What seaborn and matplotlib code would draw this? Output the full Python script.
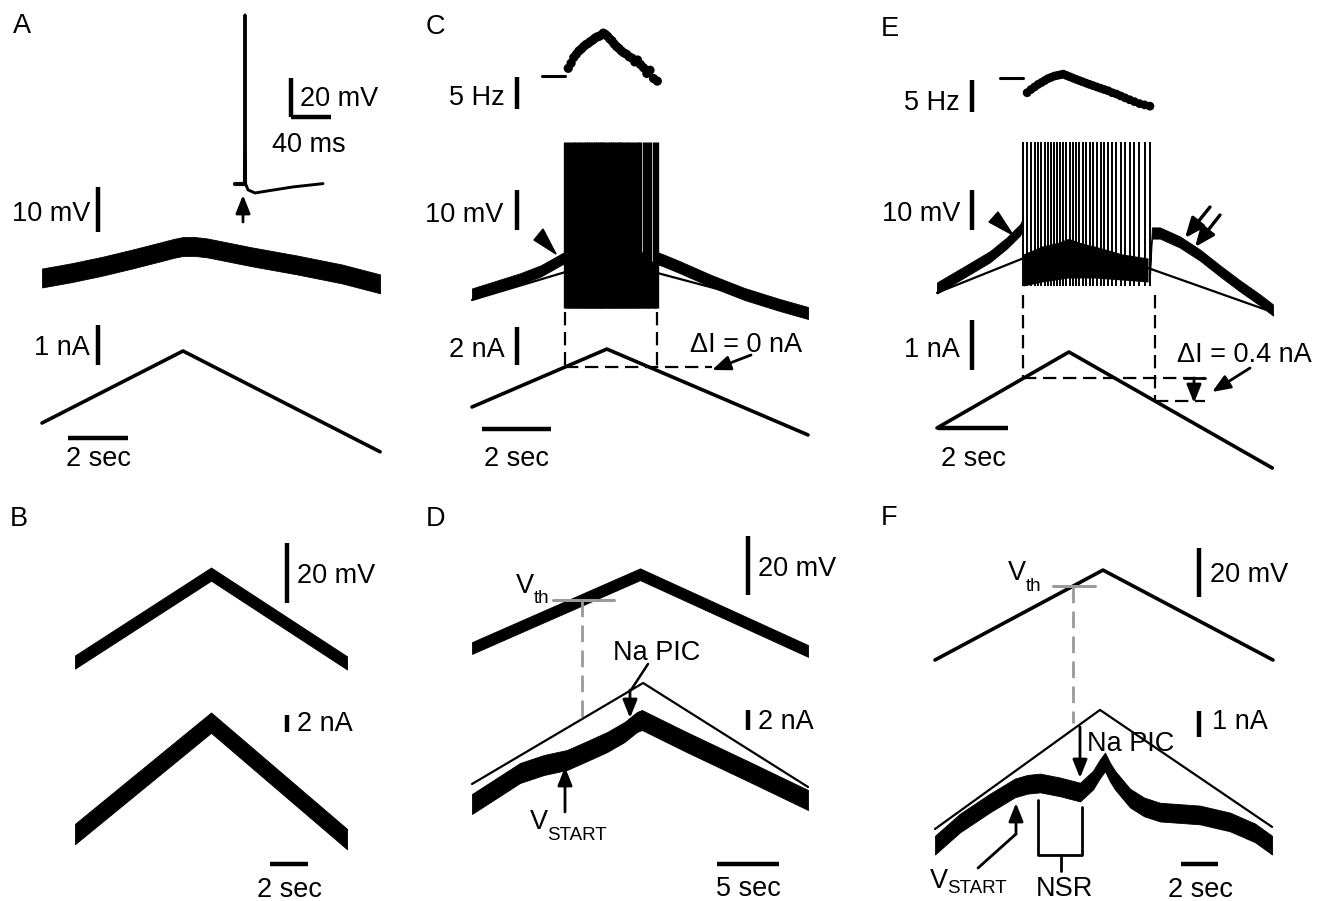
import numpy as np
import matplotlib
matplotlib.use("Agg")
import matplotlib.pyplot as plt
import seaborn as sns
from matplotlib.patches import Polygon

# units: time s (inset ms), membrane potential mV, current nA, firing rate Hz

# A - subthreshold ramp + single spike inset
a_ramp_t = [0.0, 4.7, 11.27]
a_ramp_i = [0.0, 1.8, -0.72]
a_vm_t = [0.0, 1.0, 2.0, 3.0, 4.0, 4.4, 4.7, 5.1, 5.5, 7.0, 8.5, 10.0, 11.27]
a_vm = [0.0, 1.2, 2.6, 4.2, 5.9, 6.6, 7.0, 7.0, 6.7, 4.7, 2.9, 0.9, -1.3]
a_ap_t = [-10, -0.6, 0.0, 0.6, 3, 10, 22, 48, 78]
a_ap_v = [0.0, 0.0, 86.7, 0.0, -3.0, -4.6, -3.6, -1.5, 0.2]

# B - voltage ramp and current
b_t = [0.0, 7.16, 14.32]
b_vm = [0.0, 29.3, -0.3]
b_im = [0.0, 13.1, -0.6]

# C - ramp with firing, no hysteresis
c_ramp_t = [0.0, 3.91, 9.74]
c_ramp_i = [0.0, 3.05, -1.47]
c_pass_v = [-1.5, 8.6, -4.75]
c_pre_t = [0.0, 0.7, 1.4, 2.0, 2.35, 2.7]
c_pre_v = [0.0, 1.9, 3.8, 5.8, 7.5, 9.2]
c_post_t = [5.36, 5.55, 6.0, 6.95, 7.9, 8.9, 9.74]
c_post_v = [9.0, 8.4, 6.8, 3.2, 0.0, -2.7, -4.75]
c_first_spike = 2.70
c_rate = [11.2, 12.0, 12.9, 13.4, 13.9, 14.2, 14.6, 14.9, 15.1, 15.4, 15.6, 15.9,
          16.1, 16.2, 16.4, 16.7, 16.5, 16.2, 15.8, 15.5, 15.0, 14.6, 14.3, 13.9,
          13.6, 13.4, 13.0, 12.8, 12.2, 12.5, 11.8, 11.3, 10.4, 10.9, 9.6, 9.2]
c_ref_hz = 10
c_burst_t = [2.7, 3.2, 3.9, 4.6, 5.0, 5.36]
c_burst_top = [9.0, 12.0, 14.0, 13.0, 10.0, 7.0]
c_trough = -3.5
c_peak = 38.0

# D - voltage clamp ramp (slow)
d_t = [0.0, 13.55, 27.1]
d_vm = [0.0, 25.0, -1.0]
d_vth = 16.3
d_cmd_t = [0.0, 13.8, 27.1]
d_cmd_i = [0.0, 10.1, -0.3]
d_im_t = [0.0, 2.0, 3.87, 5.8, 7.66, 9.3, 10.9, 12.3, 13.3, 13.7, 17.3, 22.4, 27.1]
d_im = [-2.0, -0.4, 1.1, 1.9, 2.4, 3.3, 4.2, 5.2, 6.2, 6.4, 4.2, 1.2, -1.6]

# E - ramp with firing and hysteresis
e_ramp_t = [0.0, 3.77, 9.58]
e_ramp_i = [0.0, 1.52, -0.8]
e_pass_v = [-0.7, 12.5, -5.5]
e_pre_t = [0.0, 0.74, 1.51, 2.0, 2.37, 2.46]
e_pre_v = [0.5, 4.3, 8.3, 11.8, 15.0, 16.5]
e_post_t = [6.09, 6.14, 6.37, 6.94, 7.51, 8.09, 8.66, 9.23, 9.6]
e_post_v = [5.5, 14.25, 14.25, 12.0, 8.75, 4.75, 1.0, -2.5, -5.0]
e_first_spike = 2.46
e_rate = [8.7, 9.2, 9.6, 10.0, 10.3, 10.6, 10.9, 11.1, 11.3, 11.4, 11.5, 11.6,
          11.4, 11.2, 11.0, 10.8, 10.6, 10.4, 10.2, 10.0, 9.8, 9.6, 9.4, 9.2,
          9.0, 8.7, 8.5, 8.2, 7.9, 7.6, 7.3, 7.0, 6.8, 6.6]
e_ref_hz = 11
e_release_t = 6.23
e_burst_t = [2.46, 3.0, 3.74, 4.5, 5.3, 6.03]
e_burst_top = [9.0, 11.0, 12.5, 11.0, 9.0, 8.0]
e_burst_bot = [1.0, 2.0, 3.0, 3.0, 2.5, 2.0]
e_trough = 1.0
e_peak = 37.0

# F - voltage clamp ramp (fast)
f_t = [0.0, 9.08, 18.27]
f_vm = [0.0, 36.7, 0.0]
f_vth = 30.2
f_cmd_t = [0.0, 8.92, 18.22]
f_cmd_i = [0.0, 4.58, 0.08]
f_im_t = [0.0, 1.35, 2.97, 4.32, 5.0, 5.68, 6.76, 7.84, 8.54, 8.9, 9.19, 9.45, 9.73,
          10.54, 11.3, 12.16, 14.32, 15.95, 17.3, 18.22]
f_im = [-0.62, 0.23, 1.0, 1.58, 1.72, 1.77, 1.62, 1.42, 1.88, 2.3, 2.58, 2.2, 1.88,
        1.19, 0.85, 0.65, 0.54, 0.27, -0.15, -0.62]

W, H = 1328, 901
FS = 19.5
SUB = 13.5

sns.set_theme(style="white")
plt.rcParams['font.family'] = ['Liberation Sans', 'DejaVu Sans']

fig = plt.figure(figsize=(W / 100, H / 100), dpi=100)
fig.patch.set_facecolor('white')
n_ax = [0]


def trace_ax(x0, y0, sx, sy):
    """transparent full-figure axes: value (0, 0) at pixel (x0, y0), sx/sy px per unit"""
    n_ax[0] += 1
    ax = fig.add_axes([0, 0, 1, 1], facecolor='none', label=f"tr{n_ax[0]}")
    ax.set_xlim(-x0 / sx, (W - x0) / sx)
    ax.set_ylim((y0 - H) / sy, y0 / sy)
    ax.set_axis_off()
    return ax


def line(ax, t, v, lw=2.5, color='black', **kw):
    sns.lineplot(x=t, y=v, ax=ax, color=color, linewidth=lw, estimator=None,
                 sort=False, legend=False, **kw)


def band(ax, t, v, half):
    v = np.asarray(v, dtype=float)
    ax.fill_between(t, v - half, v + half, color='black', lw=0.6)


ov = fig.add_axes([0, 0, 1, 1], facecolor='none', label="overlay")
ov.set_xlim(0, W)
ov.set_ylim(H, 0)
ov.set_axis_off()


def txt(x, y, s, ha='left', size=FS, **kw):
    ov.text(x, y, s, ha=ha, va='baseline', fontsize=size, color='black', **kw)


def vbar(x, y_bottom, px):
    ov.plot([x, x], [y_bottom, y_bottom - px], color='black', lw=3.2, solid_capstyle='butt')


def hbar(x_left, y, px):
    ov.plot([x_left, x_left + px], [y, y], color='black', lw=3.2, solid_capstyle='butt')


def arrow(tail, tip, lw=2.0, hl=0.55, hw=0.22):
    ov.annotate('', xy=tip, xytext=tail,
                arrowprops=dict(arrowstyle=f'-|>,head_length={hl},head_width={hw}',
                                color='black', lw=lw, mutation_scale=20,
                                shrinkA=0, shrinkB=0))


def spikes_from_rate(t0, rate):
    return t0 + np.concatenate([[0.0], np.cumsum(1.0 / np.asarray(rate))])


# ---------------- A ----------------
sxA = 30
axA_v = trace_ax(42, 278, sxA, 4.5)
band(axA_v, a_vm_t, a_vm, 2.1)
axA_i = trace_ax(42, 423, sxA, 40)
line(axA_i, a_ramp_t, a_ramp_i, lw=2.6)
axA_ap = trace_ax(245, 184, 1.0, 1.95)
line(axA_ap, a_ap_t, a_ap_v, lw=2.1)
line(axA_ap, a_ap_t[:2], a_ap_v[:2], lw=3.0)
vbar(291, 117, 20 * 1.95)
hbar(291, 117, 40 * 1.0)
arrow((243, 222), (243, 195))
vbar(98, 232, 10 * 4.5)
vbar(98, 365, 1 * 40)
hbar(68, 438, 2 * sxA)
txt(22, 33, 'A', ha='center')
txt(300, 106, '20 mV')
txt(272, 152, '40 ms')
txt(90, 221, '10 mV', ha='right')
txt(90, 355, '1 nA', ha='right')
txt(98, 466, '2 sec', ha='center')

# ---------------- B ----------------
sxB = 19
axB_v = trace_ax(75, 662, sxB, 3.0)
band(axB_v, b_t, b_vm, 2.2)
axB_i = trace_ax(75, 834, sxB, 8.5)
band(axB_i, b_t, b_im, 1.2)
vbar(287, 603, 20 * 3.0)
vbar(287, 732, 2 * 8.5)
hbar(270, 864, 2 * sxB)
txt(19, 526, 'B', ha='center')
txt(297, 583, '20 mV')
txt(297, 731, '2 nA')
txt(289, 897, '2 sec', ha='center')

# ---------------- C ----------------
sxC = 34.5
c_spk = spikes_from_rate(c_first_spike, c_rate)
axC_r = trace_ax(472, 140, sxC, 6.4)
axC_r.plot([c_first_spike - 0.68, c_first_spike], [c_ref_hz, c_ref_hz], color='black', lw=2.2)
sns.scatterplot(x=c_spk[1:], y=c_rate, ax=axC_r, color='black', s=44, edgecolor='none', legend=False)
axC_v = trace_ax(472, 294, sxC, 4.0)
line(axC_v, c_ramp_t, c_pass_v, lw=1.6)
band(axC_v, c_pre_t, c_pre_v, 1.4)
band(axC_v, c_post_t, c_post_v, 1.5)
axC_v.fill_between(c_burst_t, c_trough, c_burst_top, color='black', lw=0)
axC_v.vlines(c_spk, c_trough, c_peak, color='black', lw=2.4)
axC_i = trace_ax(472, 407, sxC, 19)
line(axC_i, c_ramp_t, c_ramp_i, lw=2.6)
c_on_i = np.interp(c_spk[0], c_ramp_t, c_ramp_i)
c_off_i = np.interp(c_spk[-1], c_ramp_t, c_ramp_i)
dash = (0, (6, 3))
axC_i.plot([c_spk[0], c_spk[0]], [5.0, c_on_i], color='black', lw=1.6, linestyle=dash)
axC_i.plot([c_spk[-1], c_spk[-1]], [5.0, c_off_i], color='black', lw=1.6, linestyle=dash)
axC_i.plot([c_spk[0], 6.96], [c_on_i, c_on_i], color='black', lw=1.6, linestyle=dash)
ov.add_patch(Polygon([(534, 240), (543, 229), (556, 254)], closed=True, color='black'))
arrow((751, 355), (712, 370))
vbar(517, 109, 5 * 6.4)
vbar(517, 230, 10 * 4.0)
vbar(517, 365, 2 * 19)
hbar(482, 429, 2 * sxC)
txt(435, 34, 'C', ha='center')
txt(505, 105, '5 Hz', ha='right')
txt(503, 222, '10 mV', ha='right')
txt(505, 357, '2 nA', ha='right')
txt(516, 466, '2 sec', ha='center')
txt(690, 352, 'ΔI = 0 nA')

# ---------------- D ----------------
sxD = 12.4
axD_v = trace_ax(472, 648, sxD, 2.95)
band(axD_v, d_t, d_vm, 2.0)
d_cross = np.interp(d_vth, d_vm[:2], d_t[:2])
axD_v.plot([d_cross - 2.3, d_cross + 2.6], [d_vth, d_vth], color='#9a9a9a', lw=2.2)
axD_v.plot([d_cross, d_cross], [d_vth, -25.0], color='#9a9a9a', lw=2.0, linestyle=dash)
axD_i = trace_ax(472, 784, sxD, 10)
line(axD_i, d_cmd_t, d_cmd_i, lw=1.6)
band(axD_i, d_im_t, d_im, 1.0)
ov.plot([648, 631], [664, 690], color='black', lw=1.8)
arrow((630, 690), (630, 718))
arrow((565, 812), (565, 767))
vbar(748, 595, 20 * 2.95)
vbar(748, 730, 2 * 10)
hbar(717, 864, 5 * sxD)
txt(436, 526, 'D', ha='center')
txt(758, 576, '20 mV')
txt(758, 729, '2 nA')
txt(748, 896, '5 sec', ha='center')
txt(613, 660, 'Na PIC')
txt(530, 829, 'V')
txt(547, 840, 'START', size=SUB)
txt(516, 593, 'V')
txt(534, 603, 'th', size=SUB)

# ---------------- E ----------------
sxE = 35
e_spk = spikes_from_rate(e_first_spike, e_rate)
axE_r = trace_ax(937, 148.4, sxE, 6.4)
axE_r.plot([e_first_spike - 0.66, e_first_spike], [e_ref_hz, e_ref_hz], color='black', lw=2.2)
sns.scatterplot(x=e_spk[1:], y=e_rate, ax=axE_r, color='black', s=40, edgecolor='none', legend=False)
axE_v = trace_ax(937, 290, sxE, 4.0)
axE_v.fill_between(e_burst_t, e_burst_bot, e_burst_top, color='black', lw=0)
axE_v.vlines(e_spk, e_trough, e_peak, color='black', lw=1.4)
line(axE_v, e_ramp_t, e_pass_v, lw=1.6)
band(axE_v, e_pre_t, e_pre_v, 1.4)
band(axE_v, e_post_t, e_post_v, 1.4)
axE_i = trace_ax(937, 428, sxE, 50)
line(axE_i, e_ramp_t, e_ramp_i, lw=2.6)
e_on_i = np.interp(e_spk[0], e_ramp_t, e_ramp_i)
e_off_i = np.interp(e_release_t, e_ramp_t, e_ramp_i)
axE_i.plot([e_spk[0], e_spk[0]], [2.66, e_on_i], color='black', lw=1.6, linestyle=dash)
axE_i.plot([e_release_t, e_release_t], [2.66, e_off_i], color='black', lw=1.6, linestyle=dash)
axE_i.plot([e_spk[0], 7.66], [e_on_i, e_on_i], color='black', lw=1.6, linestyle=dash)
axE_i.plot([e_release_t, 7.66], [e_off_i, e_off_i], color='black', lw=1.6, linestyle=dash)
ov.plot([1184, 1205], [378, 378], color='black', lw=2.0)
arrow((1194, 378), (1194, 403))
arrow((1250, 368), (1212, 392))
ov.add_patch(Polygon([(989, 222), (998, 212), (1013, 235)], closed=True, color='black'))
arrow((1210, 207), (1185, 238), lw=2.4, hl=0.6, hw=0.25)
arrow((1220, 215), (1195, 247), lw=2.4, hl=0.6, hw=0.25)
vbar(972, 112, 5 * 6.4)
vbar(972, 230, 10 * 4.0)
vbar(972, 370, 1 * 50)
hbar(938, 428, 2 * sxE)
txt(890, 36, 'E', ha='center')
txt(960, 110, '5 Hz', ha='right')
txt(960, 221, '10 mV', ha='right')
txt(960, 357, '1 nA', ha='right')
txt(973, 466, '2 sec', ha='center')
txt(1177, 362, 'ΔI = 0.4 nA')

# ---------------- F ----------------
sxF = 18.5
axF_v = trace_ax(935, 660, sxF, 2.45)
line(axF_v, f_t, f_vm, lw=2.6)
f_cross = np.interp(f_vth, f_vm[:2], f_t[:2])
axF_v.plot([f_cross - 1.1, f_cross + 1.2], [f_vth, f_vth], color='#9a9a9a', lw=2.2)
axF_v.plot([f_cross, f_cross], [f_vth, -25.7], color='#9a9a9a', lw=2.0, linestyle=dash)
axF_i = trace_ax(935, 829, sxF, 26)
line(axF_i, f_cmd_t, f_cmd_i, lw=1.6)
band(axF_i, f_im_t, f_im, 0.36)
arrow((1080, 727), (1080, 778))
arrow((1016, 834), (1016, 803))
ov.plot([978, 1016], [868, 834], color='black', lw=2.0)
ov.plot([1038, 1038, 1082, 1082], [800, 855, 855, 807], color='black', lw=2.0)
ov.plot([1061, 1061], [855, 871], color='black', lw=2.0)
vbar(1199, 597, 20 * 2.45)
vbar(1199, 737, 1 * 26)
hbar(1181, 864, 2 * sxF)
txt(889, 525, 'F', ha='center')
txt(1210, 582, '20 mV')
txt(1212, 729, '1 nA')
txt(1200, 897, '2 sec', ha='center')
txt(1087, 751, 'Na PIC', bbox=dict(facecolor='white', edgecolor='none', pad=0.5))
txt(930, 888, 'V')
txt(947, 893, 'START', size=SUB)
txt(1008, 580, 'V')
txt(1026, 591, 'th', size=SUB)
txt(1064, 896, 'NSR', ha='center')

fig.savefig('out.png', dpi=100, facecolor='white')
